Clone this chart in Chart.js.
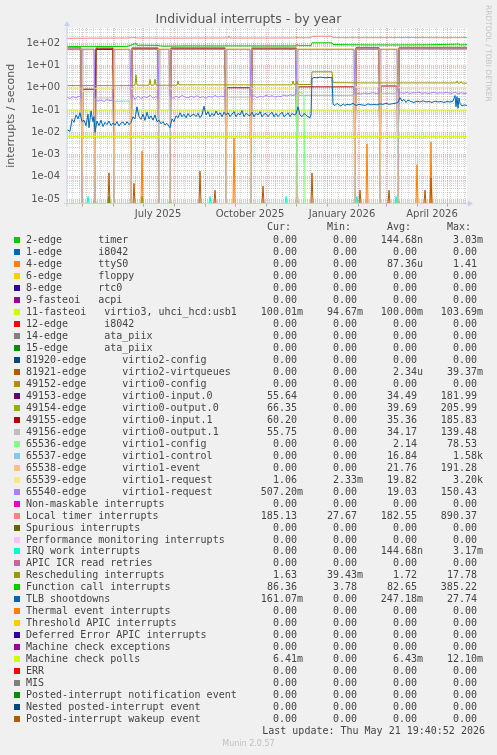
<!DOCTYPE html>
<html>
<head>
<meta charset="utf-8">
<title>Individual interrupts - by year</title>
<script src="https://cdn.jsdelivr.net/npm/chart.js@4.4.1/dist/chart.umd.min.js"></script>
<style>
  html, body { margin: 0; padding: 0; background: #f0f0f0; }
  #page { position: relative; width: 497px; height: 755px; overflow: hidden; }
  #graph { position: absolute; left: 0; top: 0; }
  .txt { position: absolute; font-family: "DejaVu Sans Mono", monospace; font-size: 10px; line-height: 12px; height: 12px; color: #444; white-space: pre; }
  .box { position: absolute; width: 6px; height: 6px; }
  .munin { position: absolute; left: 0; width: 497px; text-align: center; font-family: "DejaVu Sans", sans-serif; font-size: 8px; color: #c0c0c0; }
</style>
</head>
<body>
<div id="page">
  <canvas id="graph" width="497" height="755"></canvas>
  <div id="legend"></div>
</div>
<script>
// day 0 = 2025-04-16, one day per pixel, 400 days up to 2026-05-21

// axis ticks
const yTickValues = [1e-5, 1e-4, 1e-3, 1e-2, 1e-1, 1e0, 1e1, 1e2];
const yTickLabels = ["1e-05", "1e-04", "1e-03", "1e-02", "1e-01", "1e+00", "1e+01", "1e+02"];
const xLabelDays = [91, 183, 275, 365];
const xLabels = ["July 2025", "October 2025", "January 2026", "April 2026"];
const monthDays = [15, 46, 76, 107, 138, 168, 199, 229, 260, 291, 319, 350, 380];
const Y_MIN = 6.3e-6, Y_MAX = 485;

// legend (munin order)
const legendNames = [
  "2-edge      timer", "1-edge      i8042", "4-edge      ttyS0", "6-edge      floppy",
  "8-edge      rtc0", "9-fasteoi   acpi", "11-fasteoi   virtio3, uhci_hcd:usb1",
  "12-edge      i8042", "14-edge      ata_piix", "15-edge      ata_piix",
  "81920-edge      virtio2-config", "81921-edge      virtio2-virtqueues",
  "49152-edge      virtio0-config", "49153-edge      virtio0-input.0",
  "49154-edge      virtio0-output.0", "49155-edge      virtio0-input.1",
  "49156-edge      virtio0-output.1", "65536-edge      virtio1-config",
  "65537-edge      virtio1-control", "65538-edge      virtio1-event",
  "65539-edge      virtio1-request", "65540-edge      virtio1-request",
  "Non-maskable interrupts", "Local timer interrupts", "Spurious interrupts",
  "Performance monitoring interrupts", "IRQ work interrupts", "APIC ICR read retries",
  "Rescheduling interrupts", "Function call interrupts", "TLB shootdowns",
  "Thermal event interrupts", "Threshold APIC interrupts", "Deferred Error APIC interrupts",
  "Machine check exceptions", "Machine check polls", "ERR", "MIS",
  "Posted-interrupt notification event", "Nested posted-interrupt event",
  "Posted-interrupt wakeup event"
];
const legendColours = [
  "#00CC00", "#0066B3", "#FF8000", "#FFCC00", "#330099", "#990099", "#CCFF00", "#FF0000",
  "#808080", "#008F00", "#00487D", "#B35A00", "#B38F00", "#6B006B", "#8FB300", "#B30000",
  "#BEBEBE", "#80FF80", "#80C9FF", "#FFC080", "#FFE680", "#AA80FF", "#EE00CC", "#FF8080",
  "#666600", "#FFBFFF", "#00FFCC", "#CC6699", "#999900", "#00CC00", "#0066B3", "#FF8000",
  "#FFCC00", "#330099", "#990099", "#CCFF00", "#FF0000", "#808080", "#008F00", "#00487D",
  "#B35A00"
];
const curValues = ["0.00","0.00","0.00","0.00","0.00","0.00","100.01m","0.00","0.00","0.00","0.00","0.00","0.00","55.64","66.35","60.20","55.75","0.00","0.00","0.00","1.06","507.20m","0.00","185.13","0.00","0.00","0.00","0.00","1.63","86.36","161.07m","0.00","0.00","0.00","0.00","6.41m","0.00","0.00","0.00","0.00","0.00"];
const minValues = ["0.00","0.00","0.00","0.00","0.00","0.00","94.67m","0.00","0.00","0.00","0.00","0.00","0.00","0.00","0.00","0.00","0.00","0.00","0.00","0.00","2.33m","0.00","0.00","27.67","0.00","0.00","0.00","0.00","39.43m","3.78","0.00","0.00","0.00","0.00","0.00","0.00","0.00","0.00","0.00","0.00","0.00"];
const avgValues = ["144.68n","0.00","87.36u","0.00","0.00","0.00","100.00m","0.00","0.00","0.00","0.00","2.34u","0.00","34.49","39.69","35.36","34.17","2.14","16.84","21.76","19.82","19.03","0.00","182.55","0.00","0.00","144.68n","0.00","1.72","82.65","247.18m","0.00","0.00","0.00","0.00","6.43m","0.00","0.00","0.00","0.00","0.00"];
const maxValues = ["3.03m","0.00","1.41","0.00","0.00","0.00","103.69m","0.00","0.00","0.00","0.00","39.37m","0.00","181.99","205.99","185.83","139.48","78.53","1.58k","191.28","3.20k","150.43","0.00","890.37","0.00","0.00","3.17m","0.00","17.78","385.22","27.74","0.00","0.00","0.00","0.00","12.10m","0.00","0.00","0.00","0.00","0.00"];

// boot periods: virtio irq numbers swap between boots
const bootDays = [0, 15, 28, 47, 64, 92, 103, 159, 184, 230, 288, 313, 331, 400];
const virtio0Input0  = [52, 0, 53, 0, 54, 0, 53, 0, 54, 0, 55, 0, 56];
const virtio0Output0 = [65, 0, 66, 0, 64, 0, 65, 0, 66, 0, 65, 0, 66];
const virtio0Input1  = [55, 0.86, 56, 0, 58, 0, 57, 1.0, 58, 1.1, 60, 1.2, 60];
const virtio0Output1 = [54, 0, 0.35, 0, 55, 0, 54, 0.38, 55, 0.45, 56, 0.55, 56];
const virtio1Control = [0, 55, 0, 0.25, 0, 55, 0, 55, 0, 55, 0, 55, 0];
const virtio1Event   = [0, 55, 0, 55, 0, 55, 0, 55, 0, 55, 0, 55, 0];
const virtio1Req1    = [0.95, 0.67, 0.95, 55, 0.9, 55, 0.9, 55, 0.9, 55, 1.05, 55, 1.0];
const virtio1Config  = [[0, 0], [229, 0], [230, 45], [231, 0.7], [237, 0.5], [238, 0], [400, 0]];
// [day, value]
const virtio1Req2 = [
  [0,0.38],[3,0.33],[6,0.4],[9,0.35],[12,0.42],[14,0.36],[15,52],[27,52],
  [28,0.3],[31,0.25],[34,0.28],[37,0.24],[40,0.3],[43,0.26],[46,0.28],[47,52],[63,52],
  [64,0.32],[66,0.45],[68,0.3],[71,0.42],[74,0.33],[77,0.4],[80,0.36],[83,0.46],[86,0.34],[89,0.4],[91,0.35],[92,52],[102,52],
  [103,0.4],[106,0.34],[109,0.42],[112,0.36],[115,0.45],[118,0.38],[121,0.35],[124,0.42],[127,0.37],[130,0.44],[133,0.36],[136,0.4],[139,0.34],[142,0.42],[145,0.37],[148,0.45],[151,0.38],[154,0.42],[158,0.4],[159,52],[183,52],
  [184,0.38],[187,0.44],[190,0.36],[193,0.42],[196,0.38],[199,0.46],[202,0.4],[205,0.44],[208,0.38],[211,0.42],[214,0.4],[217,0.47],[220,0.42],[223,0.48],[226,0.44],[229,0.5],[230,52],[287,52],
  [288,0.5],[291,0.56],[294,0.52],[297,0.58],[300,0.53],[303,0.56],[306,0.6],[309,0.54],[312,0.57],[313,52],[330,52],
  [331,0.55],[334,0.6],[337,0.56],[340,0.62],[343,0.55],[346,0.6],[349,0.58],[352,0.63],[355,0.56],[358,0.6],[361,0.55],[364,0.58],[367,0.62],[370,0.56],[373,0.6],[376,0.57],[379,0.62],[382,0.58],[385,0.56],[388,0.64],[391,0.52],[394,0.6],[397,0.55],[400,0.58]
];

// single-day spikes [day, value]
const timerSpikes   = [[28, 1.3e-5], [42, 1.3e-5], [75, 1.3e-5], [103, 1.3e-5], [331, 1.3e-5]];
const ttyS0Spikes   = [[75, 1.4e-3], [167, 5.5e-3], [300, 3e-3], [350, 3.5e-4], [364, 3.7e-3]];
const virtio2Spikes = [[42, 1.5e-4], [67, 5e-5], [133, 1.8e-4], [148, 2.5e-5], [196, 3.8e-5], [230, 3.8e-5], [245, 1.5e-4], [293, 2.5e-5], [322, 2.5e-5], [358, 2.5e-5], [364, 9e-5]];
const irqWorkSpikes = [[21, 1.3e-5], [143, 1.3e-5], [219, 1.3e-5], [290, 1.3e-5], [329, 1.3e-5]];

// [day, value]
const fasteoi11 = [[0, 0.1], [400, 0.1]];
const mcePolls = [[0, 0.0064], [400, 0.0064]];
const localTimer = [[0, 165], [10, 168], [30, 170], [60, 172], [69, 180], [70, 172], [100, 170], [140, 172], [161, 172], [162, 215], [163, 172], [200, 172], [229, 174], [230, 185], [231, 176], [244, 176], [245, 205], [265, 208], [266, 178], [300, 178], [340, 180], [380, 178], [400, 180]];
const functionCall = [[0, 72], [20, 70], [40, 72], [60, 71], [69, 100], [70, 80], [72, 82], [90, 80], [95, 74], [120, 76], [160, 76], [200, 76], [229, 76], [230, 88], [232, 78], [244, 78], [245, 105], [265, 105], [266, 88], [300, 84], [330, 84], [360, 85], [392, 92], [393, 84], [400, 86]];
const rescheduling = [[0, 1.25], [30, 1.25], [60, 1.25], [68, 1.3], [69, 3.8], [70, 1.3], [82, 1.3], [83, 2.4], [84, 1.3], [87, 1.3], [88, 2.4], [89, 1.3], [110, 1.3], [111, 2.0], [112, 1.35], [160, 1.35], [200, 1.35], [225, 1.35], [226, 2.0], [227, 1.35], [229, 1.4], [230, 2.0], [231, 1.4], [244, 1.4], [245, 5.2], [265, 5.2], [266, 1.7], [300, 1.65], [340, 1.65], [389, 1.65], [390, 2.0], [391, 1.6], [393, 1.6], [394, 1.9], [395, 1.6], [400, 1.63]];
const tlbShootdowns = [[0,0.013],[3,0.011],[5,0.038],[7,0.028],[9,0.06],[11,0.04],[13,0.075],[15,0.03],[17,0.035],[19,0.02],[21,0.065],[22,0.016],[24,0.09],[26,0.03],[27,0.05],[28,0.01],[30,0.032],[32,0.02],[34,0.035],[36,0.018],[38,0.028],[40,0.022],[42,0.032],[44,0.02],[46,0.026],[48,0.021],[50,0.03],[52,0.019],[54,0.026],[56,0.029],[58,0.021],[60,0.03],[62,0.022],[64,0.028],[66,0.05],[68,0.04],[70,0.14],[72,0.05],[74,0.038],[76,0.065],[78,0.034],[80,0.08],[82,0.04],[84,0.055],[86,0.035],[88,0.06],[90,0.03],[92,0.035],[94,0.024],[96,0.03],[98,0.021],[100,0.025],[103,0.016],[105,0.04],[107,0.03],[109,0.055],[111,0.045],[113,0.075],[115,0.05],[117,0.065],[119,0.045],[121,0.07],[123,0.05],[125,0.06],[127,0.065],[129,0.05],[131,0.07],[133,0.045],[135,0.06],[137,0.15],[139,0.06],[141,0.085],[143,0.05],[145,0.07],[147,0.055],[149,0.09],[151,0.06],[153,0.075],[155,0.05],[157,0.08],[159,0.06],[161,0.075],[163,0.05],[165,0.065],[167,0.085],[169,0.05],[171,0.07],[173,0.06],[175,0.095],[177,0.05],[179,0.07],[181,0.06],[183,0.055],[185,0.08],[187,0.05],[189,0.07],[191,0.06],[193,0.085],[195,0.05],[197,0.065],[199,0.07],[201,0.05],[203,0.065],[205,0.08],[207,0.05],[209,0.07],[211,0.05],[213,0.065],[215,0.08],[217,0.05],[219,0.06],[221,0.075],[223,0.05],[225,0.07],[227,0.06],[229,0.065],[231,0.14],[233,0.06],[235,0.05],[237,0.07],[239,0.06],[241,0.05],[243,0.045],[244,0.06],[245,2.6],[247,2.9],[250,2.8],[253,3.0],[256,2.9],[259,2.8],[262,2.9],[265,2.8],[266,0.18],[268,0.16],[270,0.2],[272,0.17],[274,0.15],[276,0.19],[278,0.16],[280,0.18],[283,0.17],[286,0.2],[289,0.16],[292,0.18],[295,0.17],[298,0.16],[301,0.19],[304,0.17],[307,0.18],[310,0.17],[313,0.19],[316,0.18],[319,0.2],[322,0.18],[325,0.19],[328,0.2],[331,0.22],[333,0.36],[335,0.25],[337,0.3],[339,0.22],[341,0.28],[344,0.24],[347,0.22],[350,0.25],[353,0.23],[356,0.26],[359,0.23],[362,0.24],[365,0.22],[368,0.25],[371,0.23],[374,0.24],[377,0.22],[380,0.24],[383,0.23],[386,0.25],[388,0.45],[389,0.14],[390,0.4],[391,0.12],[392,0.35],[393,0.2],[395,0.15],[397,0.17],[400,0.16]];

// --- build the point lists ---
// a log axis cannot show 0, rrdtool puts it on the floor of the graph
const floor = v => (v > 0 ? v : Y_MIN);
function periodSeries(vals, dropAtBoot) {
  const pts = [];
  vals.forEach((v, i) => {
    const a = bootDays[i], b = bootDays[i + 1];
    if (i > 0 && dropAtBoot) pts.push({ x: a, y: floor(0) });
    pts.push({ x: i > 0 && dropAtBoot ? a + 1 : a, y: floor(v) });
    pts.push({ x: i < vals.length - 1 ? b - 1 : b, y: floor(v) });
  });
  return pts;
}
function spikeSeries(list) {
  const pts = [{ x: 0, y: floor(0) }];
  list.forEach(([d, v]) => pts.push({ x: d - 1, y: floor(0) }, { x: d, y: floor(v) }, { x: d + 1, y: floor(0) }));
  pts.push({ x: 400, y: floor(0) });
  return pts;
}
const pairs = list => list.map(([d, v]) => ({ x: d, y: floor(v) }));

const plotted = [
  [0, spikeSeries(timerSpikes)],
  [2, spikeSeries(ttyS0Spikes)],
  [6, pairs(fasteoi11)],
  [11, spikeSeries(virtio2Spikes)],
  [13, periodSeries(virtio0Input0, true)],
  [14, periodSeries(virtio0Output0, true)],
  [15, periodSeries(virtio0Input1, true)],
  [16, periodSeries(virtio0Output1, true)],
  [17, pairs(virtio1Config)],
  [18, periodSeries(virtio1Control, true)],
  [19, periodSeries(virtio1Event, true)],
  [20, periodSeries(virtio1Req1, false)],
  [21, pairs(virtio1Req2)],
  [23, pairs(localTimer)],
  [26, spikeSeries(irqWorkSpikes)],
  [28, pairs(rescheduling)],
  [29, pairs(functionCall)],
  [30, pairs(tlbShootdowns)],
  [35, pairs(mcePolls)]
];
const datasets = plotted.map(([idx, data], n) => ({
  label: legendNames[idx],
  data: data,
  borderColor: legendColours[idx],
  borderWidth: 1,
  pointRadius: 0,
  tension: 0,
  order: -n // rrdtool draws later series on top
}));

// x ticks: monthly major grid, weekly minor grid, quarter labels mid-month
const xTicks = [];
for (let d = 5; d < 400; d += 7) xTicks.push({ value: d, kind: "minor" });
monthDays.forEach(d => xTicks.push({ value: d, kind: "major" }));
xLabelDays.forEach((d, i) => xTicks.push({ value: d, kind: "label", text: xLabels[i] }));
xTicks.sort((a, b) => a.value - b.value);

const yTicks = [];
for (let e = -6; e <= 2; e++) {
  for (let k = 1; k <= 9; k++) {
    const v = k * Math.pow(10, e);
    if (v >= Y_MIN && v <= Y_MAX) yTicks.push({ value: v, major: k === 1 });
  }
}

const GRID_MINOR = "rgba(150, 150, 150, 0.42)";
const GRID_MAJOR = "rgba(225, 100, 100, 0.45)";
const AXIS = "#c8cff4";
const NONE = "rgba(0,0,0,0)";

const rrdFrame = {
  id: "rrdFrame",
  beforeDraw(chart) {
    const { ctx, chartArea: a } = chart;
    ctx.save();
    ctx.fillStyle = "#ffffff";
    ctx.fillRect(a.left, a.top, a.right - a.left, a.bottom - a.top);
    ctx.restore();
  },
  afterDatasetsDraw(chart) {
    const { ctx, chartArea: a } = chart;
    ctx.save();
    ctx.strokeStyle = AXIS;
    ctx.fillStyle = AXIS;
    ctx.lineWidth = 1;
    ctx.beginPath();
    ctx.moveTo(a.left - 3, a.bottom);
    ctx.lineTo(a.right + 2, a.bottom);
    ctx.moveTo(a.left, a.bottom + 3);
    ctx.lineTo(a.left, a.top - 3);
    ctx.stroke();
    ctx.beginPath();
    ctx.moveTo(a.right + 6, a.bottom);
    ctx.lineTo(a.right + 1, a.bottom - 3);
    ctx.lineTo(a.right + 1, a.bottom + 3);
    ctx.fill();
    ctx.beginPath();
    ctx.moveTo(a.left, a.top - 7);
    ctx.lineTo(a.left - 3, a.top - 2);
    ctx.lineTo(a.left + 3, a.top - 2);
    ctx.fill();
    // rrdtool watermark
    ctx.translate(488, 5);
    ctx.rotate(Math.PI / 2);
    ctx.fillStyle = "#c4c4c4";
    ctx.font = "7.5px 'DejaVu Sans'";
    ctx.textBaseline = "middle";
    ctx.fillText("RRDTOOL / TOBI OETIKER", 0, 0);
    ctx.restore();
  }
};

const tickFont = { family: "DejaVu Sans", size: 10 };

new Chart(document.getElementById("graph"), {
  type: "line",
  data: { datasets },
  plugins: [rrdFrame],
  options: {
    responsive: false,
    animation: false,
    devicePixelRatio: 1,
    events: [],
    layout: { padding: 0 },
    plugins: {
      legend: { display: false },
      tooltip: { enabled: false },
      title: {
        display: true,
        text: "Individual interrupts - by year",
        color: "#555555",
        font: { family: "DejaVu Sans", size: 12.5, weight: "normal", lineHeight: 1.2 },
        padding: { top: 12, bottom: 1 }
      }
    },
    scales: {
      x: {
        type: "linear",
        bounds: "data",
        min: 0,
        max: 400,
        afterFit: s => { s.height = 551.5; },
        afterBuildTicks: s => { s.ticks = xTicks.map(t => ({ ...t })); },
        ticks: {
          autoSkip: false,
          maxRotation: 0,
          padding: 2,
          color: "#555555",
          font: tickFont,
          callback: (v, i, ticks) => ticks[i].text || ""
        },
        grid: {
          drawTicks: true,
          tickLength: 3,
          lineWidth: 1,
          color: c => c.tick.kind === "major" ? GRID_MAJOR : c.tick.kind === "minor" ? GRID_MINOR : NONE,
          tickColor: c => c.tick.kind === "major" ? "#a8a8a8" : NONE
        },
        border: { display: false, dash: [1, 1] }
      },
      y: {
        type: "logarithmic",
        bounds: "data",
        min: Y_MIN,
        max: Y_MAX,
        afterFit: s => { s.width = 67; },
        afterBuildTicks: s => { s.ticks = yTicks.map(t => ({ ...t })); },
        ticks: {
          autoSkip: false,
          padding: 7,
          color: "#555555",
          font: tickFont,
          callback: (v, i, ticks) => {
            const j = yTickValues.findIndex(t => Math.abs(t - v) / t < 1e-6);
            return j >= 0 ? yTickLabels[j] : "";
          }
        },
        grid: {
          drawTicks: false,
          lineWidth: 1,
          color: c => c.tick.major ? GRID_MAJOR : GRID_MINOR
        },
        border: { display: false, dash: [1, 1] },
        title: {
          display: true,
          text: "interrupts / second",
          color: "#555555",
          font: { family: "DejaVu Sans", size: 11, lineHeight: 1.2 },
          padding: { top: 4.4, bottom: 0 }
        }
      },
      y2: {
        type: "linear",
        position: "right",
        afterFit: s => { s.width = 30; },
        grid: { display: false },
        border: { display: false },
        ticks: { display: false }
      }
    }
  }
});

// --- legend table under the graph ---
const legendEl = document.getElementById("legend");
function put(text, css, cls) {
  const el = document.createElement("div");
  el.className = cls || "txt";
  el.textContent = text;
  Object.assign(el.style, css);
  legendEl.appendChild(el);
  return el;
}
const colRight = [303, 363, 423, 483];
["Cur:", "Min:", "Avg:", "Max:"].forEach((h, c) => {
  put(h, { right: (497 - colRight[c] + 12) + "px", top: (227 - 6) + "px" });
});
const suffix = v => /[a-z]$/i.test(v) ? v : v + " ";
legendNames.forEach((name, i) => {
  const cy = 240 + i * 11.98;
  const box = document.createElement("div");
  box.className = "box";
  Object.assign(box.style, { left: "14px", top: (cy - 3) + "px", background: legendColours[i] });
  legendEl.appendChild(box);
  put(name, { left: "26px", top: (cy - 6) + "px" });
  [curValues, minValues, avgValues, maxValues].forEach((arr, c) => {
    put(suffix(arr[i]), { right: (497 - colRight[c]) + "px", top: (cy - 6) + "px" });
  });
});
put("Last update: Thu May 21 19:40:52 2026", { right: "12px", top: (731 - 6) + "px" });
put("Munin 2.0.57", { top: "739px" }, "munin");
</script>
</body>
</html>
